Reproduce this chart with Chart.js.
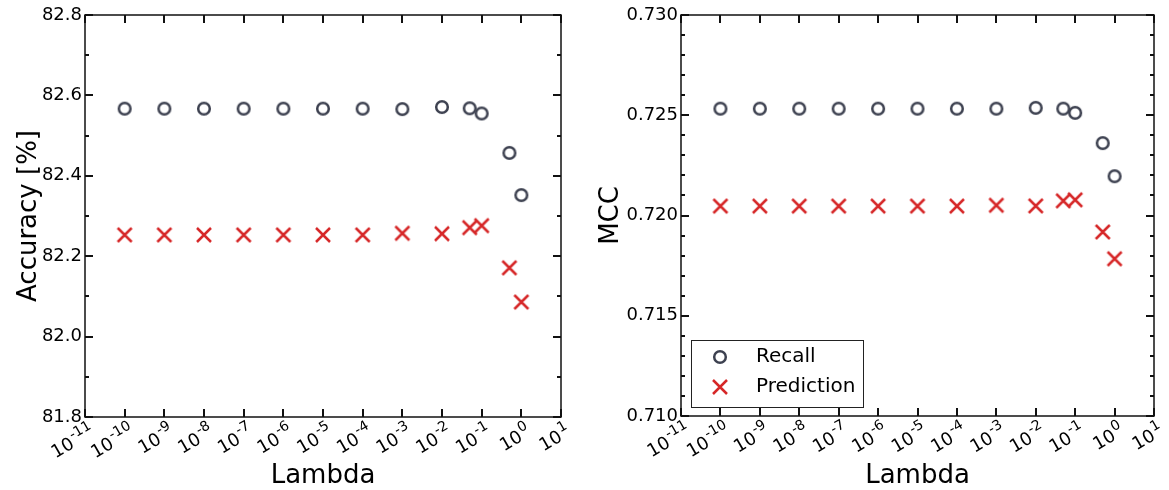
<!DOCTYPE html>
<html>
<head>
<meta charset="utf-8">
<script src="https://cdn.jsdelivr.net/npm/chart.js@4.4.0/dist/chart.umd.min.js"></script>
<style>
  body { margin: 0; background: #fff; }
  #wrap { position: relative; width: 1169px; height: 490px; }
  canvas { position: absolute; top: 0; }
  #grafikAcc { left: 0; }
  #grafikMcc { left: 584px; }
</style>
</head>
<body>
<div id="wrap">
  <canvas id="grafikAcc" width="584" height="490"></canvas>
  <canvas id="grafikMcc" width="585" height="490"></canvas>
</div>
<script>
// nilai lambda yang diuji
const lambdas = [1e-10, 1e-9, 1e-8, 1e-7, 1e-6, 1e-5, 1e-4, 1e-3, 1e-2, 0.05, 0.1, 0.5, 1]

// accuracy [%]
const accRecall = [82.567, 82.567, 82.567, 82.567, 82.567, 82.567, 82.567, 82.566, 82.571, 82.568, 82.555, 82.457, 82.352]
const accPrediction = [82.253, 82.253, 82.253, 82.253, 82.253, 82.253, 82.253, 82.257, 82.256, 82.271, 82.276, 82.171, 82.086]

// MCC
const mccRecall = [0.72533, 0.72533, 0.72533, 0.72533, 0.72533, 0.72533, 0.72533, 0.72533, 0.72537, 0.72533, 0.72512, 0.72361, 0.72196]
const mccPrediction = [0.72047, 0.72047, 0.72047, 0.72047, 0.72047, 0.72047, 0.72047, 0.72051, 0.72048, 0.72073, 0.72078, 0.71918, 0.71784]

// tick sumbu x: basis 10 dengan pangkat
const xTicks = [1e-11, 1e-10, 1e-9, 1e-8, 1e-7, 1e-6, 1e-5, 1e-4, 1e-3, 1e-2, 1e-1, 1, 10]
const xTickBase = '10'
const xTickExp = ['-11', '-10', '-9', '-8', '-7', '-6', '-5', '-4', '-3', '-2', '-1', '0', '1']

// tick sumbu y
const accTicks = [81.8, 82.0, 82.2, 82.4, 82.6, 82.8]
const accMinorTicks = [81.9, 82.1, 82.3, 82.5, 82.7]
const mccTicks = [0.710, 0.715, 0.720, 0.725, 0.730]
const mccMinorTicks = [0.711, 0.712, 0.713, 0.714, 0.716, 0.717, 0.718, 0.719,
                       0.721, 0.722, 0.723, 0.724, 0.726, 0.727, 0.728, 0.729]

const FONT = 'DejaVu Sans'
Chart.defaults.font.family = FONT
Chart.defaults.color = '#000'

// penanda titik: lingkaran kosong dan silang
const buatPenanda = (jenis, warna) => {
    const c = document.createElement('canvas')
    c.width = 20
    c.height = 20
    const g = c.getContext('2d')
    g.strokeStyle = warna
    g.lineWidth = 2.5
    g.beginPath()
    if (jenis === 'o') {
        g.arc(10, 10, 5.8, 0, Math.PI * 2)
    } else {
        g.moveTo(3, 3); g.lineTo(17, 17)
        g.moveTo(17, 3); g.lineTo(3, 17)
    }
    g.stroke()
    return c
}
const penandaRecall = buatPenanda('o', '#3d4150')
const penandaPrediction = buatPenanda('x', '#d62728')

// bingkai kotak + tick ke dalam di keempat sisi
const bingkai = {
    id: 'bingkai',
    afterDraw(chart, args, opts) {
        const {ctx, chartArea: {left, right, top, bottom}, scales: {x, y}} = chart
        ctx.save()
        ctx.strokeStyle = '#111'
        ctx.lineWidth = 1.5
        ctx.strokeRect(left, top, right - left, bottom - top)
        ctx.lineWidth = 2
        ctx.beginPath()
        xTicks.forEach(v => {
            const px = Math.round(x.getPixelForValue(v))
            ctx.moveTo(px, bottom); ctx.lineTo(px, bottom - 8)
            ctx.moveTo(px, top); ctx.lineTo(px, top + 8)
        })
        opts.major.forEach(v => {
            const py = Math.round(y.getPixelForValue(v))
            ctx.moveTo(left, py); ctx.lineTo(left + 8, py)
            ctx.moveTo(right, py); ctx.lineTo(right - 8, py)
        })
        opts.minor.forEach(v => {
            const py = Math.round(y.getPixelForValue(v))
            ctx.moveTo(left, py); ctx.lineTo(left + 4, py)
            ctx.moveTo(right, py); ctx.lineTo(right - 4, py)
        })
        ctx.stroke()
        ctx.restore()
    }
}

// label sumbu x miring 30 derajat dengan pangkat di atas
const labelPangkat = {
    id: 'labelPangkat',
    afterDraw(chart) {
        const {ctx, chartArea: {bottom}, scales: {x}} = chart
        ctx.save()
        ctx.fillStyle = '#000'
        ctx.textBaseline = 'alphabetic'
        ctx.textAlign = 'left'
        xTicks.forEach((v, i) => {
            const px = x.getPixelForValue(v)
            ctx.font = `14px "${FONT}"`
            const expW = ctx.measureText(xTickExp[i]).width
            ctx.font = `18px "${FONT}"`
            const baseW = ctx.measureText(xTickBase).width
            ctx.save()
            ctx.translate(px + 11, bottom + 18)
            ctx.rotate(-Math.PI / 6)
            ctx.fillText(xTickBase, -expW - baseW - 1, 0)
            ctx.font = `14px "${FONT}"`
            ctx.fillText(xTickExp[i], -expW, -8)
            ctx.restore()
        })
        ctx.restore()
    }
}

// keterangan di pojok kiri bawah area grafik
const keterangan = {
    id: 'keterangan',
    afterDraw(chart, args, opts) {
        if (!opts.show) return
        const {ctx, chartArea} = chart
        const x0 = chartArea.left + 10
        const y1 = chartArea.bottom - 9
        const y0 = y1 - 67
        const w = 172
        ctx.save()
        ctx.fillStyle = '#fff'
        ctx.fillRect(x0, y0, w, y1 - y0)
        ctx.strokeStyle = '#222'
        ctx.lineWidth = 1
        ctx.strokeRect(x0 + 0.5, y0 + 0.5, w, y1 - y0)
        ctx.font = `20px "${FONT}"`
        ctx.textBaseline = 'middle'
        ctx.fillStyle = '#000'
        chart.data.datasets.forEach((ds, i) => {
            const cy = y0 + 17 + i * 30
            const img = ds.pointStyle
            ctx.drawImage(img, x0 + 29 - img.width / 2, cy - img.height / 2)
            ctx.fillText(ds.label, x0 + 65, cy)
        })
        ctx.restore()
    }
}

const buatGrafik = (id, cfg) => {
    const ctx = document.getElementById(id).getContext('2d')
    return new Chart(ctx, {
        type: 'scatter',
        data: {
            datasets: [{
                label: 'Recall',
                data: lambdas.map((l, i) => ({x: l, y: cfg.recall[i]})),
                pointStyle: penandaRecall,
                pointRadius: 6,
                pointHoverRadius: 6
            }, {
                label: 'Prediction',
                data: lambdas.map((l, i) => ({x: l, y: cfg.prediction[i]})),
                pointStyle: penandaPrediction,
                pointRadius: 6,
                pointHoverRadius: 6
            }]
        },
        options: {
            responsive: false,
            animation: false,
            layout: {padding: {left: 0, top: 15, right: cfg.padRight, bottom: 0}},
            plugins: {
                legend: {display: false},
                tooltip: {enabled: false},
                bingkai: {major: cfg.yTicks, minor: cfg.yMinor},
                keterangan: {show: cfg.legend}
            },
            scales: {
                x: {
                    type: 'logarithmic',
                    min: 1e-11,
                    max: 10,
                    afterBuildTicks: s => { s.ticks = xTicks.map(v => ({value: v})) },
                    afterFit: s => { s.height = cfg.xHeight },
                    grid: {display: false, drawTicks: false},
                    border: {display: false},
                    ticks: {display: false},
                    title: {display: true, text: 'Lambda', font: {size: 26}, padding: {top: 0, bottom: -2}}
                },
                y: {
                    min: cfg.yTicks[0],
                    max: cfg.yTicks[cfg.yTicks.length - 1],
                    afterBuildTicks: s => { s.ticks = cfg.yTicks.map(v => ({value: v})) },
                    afterFit: s => { s.width = cfg.yWidth },
                    grid: {display: false, drawTicks: false},
                    border: {display: false},
                    ticks: {
                        padding: 3,
                        font: {size: 18},
                        callback: v => v.toFixed(cfg.desimal)
                    },
                    title: {display: true, text: cfg.yTitle, font: {size: 26}, padding: {top: cfg.titlePad, bottom: 0}}
                }
            }
        },
        plugins: [bingkai, labelPangkat, keterangan]
    })
}

buatGrafik('grafikAcc', {
    recall: accRecall, prediction: accPrediction,
    yTicks: accTicks, yMinor: accMinorTicks, desimal: 1,
    yTitle: 'Accuracy [%]', yWidth: 85, titlePad: 14,
    xHeight: 73, padRight: 23, legend: false
})

buatGrafik('grafikMcc', {
    recall: mccRecall, prediction: mccPrediction,
    yTicks: mccTicks, yMinor: mccMinorTicks, desimal: 3,
    yTitle: 'MCC', yWidth: 97, titlePad: 12,
    xHeight: 74, padRight: 15, legend: true
})
</script>
</body>
</html>
